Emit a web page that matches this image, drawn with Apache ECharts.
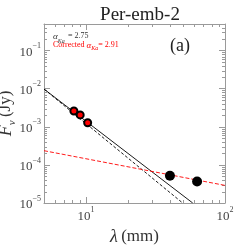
<!DOCTYPE html><html><head><meta charset="utf-8">
<script src="https://cdn.jsdelivr.net/npm/echarts@6/dist/echarts.min.js"></script>
<style>html,body{margin:0;padding:0;background:#fff}#c{width:249px;height:249px}</style>
</head><body><div id="c"></div><script>
// Data
const kaWavelength = [8.2, 9.1, 10.3];      // mm
const kaFlux = [2.6e-3, 2.05e-3, 1.28e-3];  // Jy
const cWavelength = [40.2, 63];
const cFlux = [5.2e-5, 3.67e-5];
const fitSolidX = [5, 58.6];
const fitSolidY = [0.0098, 1e-5];
const fitDashedX = [5, 49.6];
const fitDashedY = [0.0098, 1e-5];
const fitRedX = [5, 100];
const fitRedY = [2.36e-4, 2.9e-5];
const xMinorTicks = [6,7,8,9,20,30,40,50,60,70,80,90];
const yMinorBase = [2,3,4,5,6,7,8,9];
const yDecades = [1e-5,1e-4,1e-3,1e-2,1e-1];

const FONT = 'Liberation Serif';
const AX = '#9a9a9a';
const LBL = '#444';
function pairs(xs, ys){ return xs.map((x,i)=>[x, ys[i]]); }
function supLabel(v){
  const l = Math.log10(v), e = Math.round(l);
  if (Math.abs(l-e) > 1e-6) return '';
  return '{b|10}{s|' + (e<0 ? '\u2212' + (-e) : e) + '}';
}
const rich = {
  b:{fontFamily:FONT,fontSize:13,color:LBL,verticalAlign:'bottom',lineHeight:17},
  s:{fontFamily:FONT,fontSize:8,color:LBL,verticalAlign:'top',lineHeight:8}
};
const axisCommon = {
  type:'log', logBase:10,
  axisLine:{show:true,lineStyle:{color:AX,width:1}},
  axisTick:{show:true,inside:true,length:6,lineStyle:{color:AX}},
  splitLine:{show:false}
};
function subRich(color, big, small, lineH){
  return {
    i:{fontFamily:FONT,fontSize:big,fontStyle:'italic',fill:color,color:color,verticalAlign:'top',lineHeight:lineH},
    s:{fontFamily:FONT,fontSize:small,fontStyle:'italic',fill:color,color:color,verticalAlign:'bottom',lineHeight:lineH},
    n:{fontFamily:FONT,fontSize:big-1,fill:color,color:color,verticalAlign:'top',lineHeight:lineH}
  };
}
const chart = echarts.init(document.getElementById('c'), null, {renderer:'canvas'});
const option = {
  animation:false,
  backgroundColor:'#fff',
  grid:{left:44,right:24,top:24,bottom:46,containLabel:false,outerBoundsMode:'none'},
  title:{text:'Per-emb-2',left:135,top:1,textAlign:'center',
    textStyle:{fontFamily:FONT,fontSize:19,fontWeight:'normal',color:'#222'}},
  xAxis:[
    Object.assign({},axisCommon,{min:5,max:100,position:'bottom',
      axisLabel:{show:true,margin:3,formatter:supLabel,rich:rich},
      name:'{i|\u03bb} {n|(mm)}',nameLocation:'middle',nameGap:25,nameMoveOverlap:false,
      nameTextStyle:{rich:{i:{fontFamily:FONT,fontSize:18,fontStyle:'italic',color:'#333'},n:{fontFamily:FONT,fontSize:17,color:'#333'}}}}),
    Object.assign({},axisCommon,{min:5,max:100,position:'top',axisLabel:{show:false}})
  ],
  yAxis:[
    Object.assign({},axisCommon,{min:1e-5,max:0.5,position:'left',
      axisLabel:{show:true,margin:3,formatter:supLabel,rich:rich},
      name:'{i|F}{s|\u03bd} {n|(Jy)}',nameLocation:'middle',nameGap:26,nameRotate:90,nameMoveOverlap:false,
      nameTextStyle:{rich:subRich('#333',18,11,21)}}),
    Object.assign({},axisCommon,{min:1e-5,max:0.5,position:'right',axisLabel:{show:false}})
  ],
  series:[
    {type:'line',data:pairs(fitSolidX,fitSolidY),symbol:'none',lineStyle:{color:'#000',width:0.9},clip:true,z:2},
    {type:'line',data:pairs(fitDashedX,fitDashedY),symbol:'none',lineStyle:{color:'#000',width:0.9,type:[3,2]},clip:true,z:2},
    {type:'line',data:pairs(fitRedX,fitRedY),symbol:'none',lineStyle:{color:'#ff0000',width:0.9,type:[4,2]},clip:true,z:2},
    {type:'scatter',data:pairs(kaWavelength,kaFlux),symbol:'circle',symbolSize:7,
      itemStyle:{color:'#ff0000',borderColor:'#000',borderWidth:2,opacity:1},z:5},
    {type:'scatter',data:pairs(cWavelength,cFlux),symbol:'circle',symbolSize:10,
      itemStyle:{color:'#000',opacity:1},z:5}
  ],
  graphic:[
    {type:'text',left:53,top:32,style:{rich:subRich('#333',9,6,10),
      text:'{i|\u03b1}{s|Ka} {n|= 2.75}'}},
    {type:'text',left:53,top:41,style:{rich:subRich('#ff0000',9,6,10),
      text:'{n|Corrected }{i|\u03b1}{s|Ka}{n|= 2.91}'}},
    {type:'text',left:170,top:37,style:{text:'(a)',fontFamily:FONT,fontSize:18,fill:'#222'}}
  ]
};
chart.setOption(option);
// minor ticks through the axis scales
const extra = [];
const x0 = chart.convertToPixel({xAxisIndex:0}, 5), x1 = chart.convertToPixel({xAxisIndex:0}, 100);
const yB = chart.convertToPixel({yAxisIndex:0}, 1e-5), yT = chart.convertToPixel({yAxisIndex:0}, 0.5);
const st = {stroke:AX,lineWidth:1};
xMinorTicks.forEach(v=>{
  const px = Math.round(chart.convertToPixel({xAxisIndex:0}, v))+0.5;
  extra.push({type:'line',shape:{x1:px,y1:yB,x2:px,y2:yB-3},style:st,silent:true});
  extra.push({type:'line',shape:{x1:px,y1:yT,x2:px,y2:yT+3},style:st,silent:true});
});
yDecades.forEach(d=>{
  yMinorBase.forEach(m=>{
    const v = d*m; if (v>0.5) return;
    const py = Math.round(chart.convertToPixel({yAxisIndex:0}, v))+0.5;
    extra.push({type:'line',shape:{x1:x0,y1:py,x2:x0+3,y2:py},style:st,silent:true});
    extra.push({type:'line',shape:{x1:x1,y1:py,x2:x1-3,y2:py},style:st,silent:true});
  });
});
chart.setOption({graphic: option.graphic.concat(extra)});
</script></body></html>
